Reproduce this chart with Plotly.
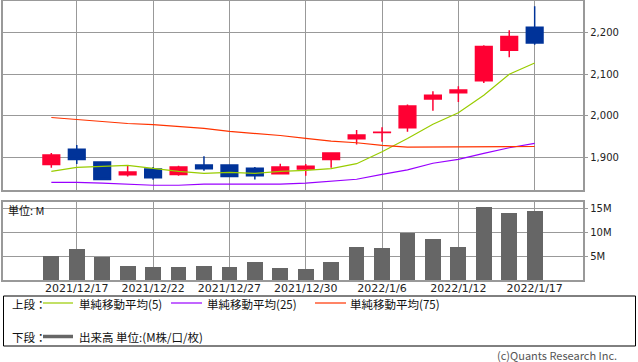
import plotly.graph_objects as go

# ---- data ----
dates = ["2021/12/16", "2021/12/17", "2021/12/20", "2021/12/21", "2021/12/22",
         "2021/12/23", "2021/12/24", "2021/12/27", "2021/12/28", "2021/12/29",
         "2021/12/30", "2022/1/4", "2022/1/5", "2022/1/6", "2022/1/7",
         "2022/1/11", "2022/1/12", "2022/1/13", "2022/1/14", "2022/1/17"]
open_ = [1882, 1919, 1888, 1857, 1871, 1858, 1881, 1881, 1873, 1860,
         1871, 1894, 1944, 1959, 1971, 2040, 2055, 2084, 2158, 2213]
high = [1910, 1929, 1890, 1879, 1876, 1879, 1902, 1881, 1876, 1884,
        1883, 1910, 1965, 1972, 2027, 2059, 2071, 2170, 2206, 2264]
low = [1874, 1883, 1845, 1853, 1845, 1855, 1867, 1851, 1846, 1860,
       1855, 1874, 1930, 1937, 1961, 2012, 2033, 2079, 2141, 2171]
close = [1905, 1894, 1846, 1864, 1850, 1876, 1872, 1853, 1855, 1876,
         1878, 1910, 1953, 1960, 2023, 2049, 2062, 2167, 2191, 2175]
ma5 = [1865.5, 1875, 1877.5, 1880, 1872.5, 1865.5, 1860.5, 1863, 1860.5, 1865.5,
       1868, 1872, 1884, 1913, 1945, 1979, 2007, 2049, 2100, 2127]
ma25 = [1839, 1839, 1837, 1834.5, 1832, 1832, 1834.5, 1834.5, 1834.5, 1834.5,
        1837, 1841.5, 1846.5, 1858, 1869, 1885, 1894.5, 1909, 1922.5, 1933]
ma75 = [1995.5, 1990.5, 1986, 1981, 1978.5, 1974, 1969, 1962, 1957, 1952,
        1945, 1938.5, 1934.5, 1928, 1924, 1924, 1924, 1924, 1925.5, 1925.5]
volume_m = [5.2, 6.5, 5.0, 3.1, 2.9, 2.9, 3.1, 2.9, 3.8, 2.7,
            2.5, 3.8, 7.1, 6.9, 10.0, 8.6, 7.1, 15.3, 14.2, 14.45]
label_idx = [1, 4, 7, 10, 13, 16, 19]
price_ticks = [1900, 2000, 2100, 2200]
vol_ticks = [5, 10, 15]
vol_tick_text = ["5M", "10M", "15M"]

W, H = 638, 362
def px(x):
    return x / W
def py(y):
    return 1 - y / H

xi = list(range(len(dates)))
GRID = "#999999"
JP = "Noto Sans CJK JP"

fig = go.Figure()
fig.add_trace(go.Candlestick(
    x=xi, open=open_, high=high, low=low, close=close,
    increasing=dict(line=dict(color="#ff0033", width=1.5), fillcolor="#ff0033"),
    decreasing=dict(line=dict(color="#003399", width=1.5), fillcolor="#003399"),
    whiskerwidth=0, xaxis="x", yaxis="y", showlegend=False))
fig.add_trace(go.Scatter(x=xi, y=ma5, mode="lines", line=dict(color="#99cc00", width=1.2),
                         xaxis="x", yaxis="y", showlegend=False))
fig.add_trace(go.Scatter(x=xi, y=ma25, mode="lines", line=dict(color="#9900ff", width=1.2),
                         xaxis="x", yaxis="y", showlegend=False))
fig.add_trace(go.Scatter(x=xi, y=ma75, mode="lines", line=dict(color="#ff3300", width=1.2),
                         xaxis="x", yaxis="y", showlegend=False))
fig.add_trace(go.Bar(x=xi, y=volume_m, width=0.62, marker=dict(color="#666666", line=dict(width=0)),
                     xaxis="x2", yaxis="y2", showlegend=False))

xr = [-1.9, 20.88]
xdom = [px(3), px(582.5)]
common_x = dict(range=xr, domain=xdom, showgrid=True, gridcolor=GRID, gridwidth=1,
                tickmode="array", tickvals=label_idx, ticktext=[dates[i] for i in label_idx],
                showline=True, linecolor=GRID, linewidth=1.5, mirror=True, zeroline=False,
                ticks="", fixedrange=True)

fig.update_layout(
    width=W, height=H, margin=dict(l=0, r=0, t=0, b=0),
    paper_bgcolor="white", plot_bgcolor="white",
    boxgap=0.345, boxgroupgap=0,
    bargap=0,
    font=dict(family="DejaVu Sans", size=11, color="#222222"),
    xaxis=dict(**common_x, showticklabels=False, anchor="y",
               rangeslider=dict(visible=False)),
    xaxis2=dict(**common_x, showticklabels=True, anchor="y2", ticklabelstandoff=-3,
                tickfont=dict(family="DejaVu Sans", size=11, color="#222222")),
    yaxis=dict(domain=[py(190), py(0.5)], range=[1820.5, 2277.8], side="right",
               tickvals=price_ticks, tickformat=",", showgrid=True, gridcolor=GRID,
               showline=True, linecolor=GRID, linewidth=1.5, mirror=True, zeroline=False,
               ticks="outside", ticklen=4, tickcolor=GRID, anchor="x",
               tickfont=dict(family="DejaVu Sans", size=10, color="#222222")),
    yaxis2=dict(domain=[py(280.3), py(201.7)], range=[0, 16.4], side="right",
                tickvals=vol_ticks, ticktext=vol_tick_text, showgrid=True, gridcolor=GRID,
                showline=True, linecolor=GRID, linewidth=1.5, mirror=True, zeroline=False,
                ticks="outside", ticklen=4, tickcolor=GRID, anchor="x2",
                tickfont=dict(family="DejaVu Sans", size=10, color="#222222")),
)

shapes = [
    dict(type="rect", xref="paper", yref="paper", x0=px(3.5), x1=px(635.5), y0=py(346), y1=py(296),
         line=dict(color="#000000", width=1)),
    dict(type="line", xref="paper", yref="paper", x0=px(43), x1=px(73), y0=py(303), y1=py(303),
         line=dict(color="#99cc00", width=1.2)),
    dict(type="line", xref="paper", yref="paper", x0=px(171), x1=px(202), y0=py(303), y1=py(303),
         line=dict(color="#9900ff", width=1.2)),
    dict(type="line", xref="paper", yref="paper", x0=px(315), x1=px(346), y0=py(303), y1=py(303),
         line=dict(color="#ff3300", width=1.2)),
    dict(type="line", xref="paper", yref="paper", x0=px(43), x1=px(73), y0=py(336.5), y1=py(336.5),
         line=dict(color="#666666", width=3.5)),
]
fig.update_layout(shapes=shapes)

def ann(text, x, y, anchor="left", color="#111111", size=11.5):
    return dict(text=text, xref="paper", yref="paper", x=px(x), y=py(y), xanchor=anchor,
                yanchor="middle", showarrow=False, font=dict(family=JP, size=size, color=color),
                borderpad=0)

fig.update_layout(annotations=[
    ann("上段：", 11, 303.5),
    ann("単純移動平均(5)", 78, 303.5),
    ann("単純移動平均(25)", 206, 303.5),
    ann("単純移動平均(75)", 349, 303.5),
    ann("下段：", 11, 337),
    ann("出来高 単位:(M株/口/枚)", 78, 337),
    ann("単位: M", 7, 209.5, size=11),
    ann("(c)Quants Research Inc.", 618, 355, anchor="right", color="#555555", size=11),
])

fig.write_html("out.html", config={"displayModeBar": False},
               post_script="document.body.style.margin='0';document.body.style.overflow='hidden';")
